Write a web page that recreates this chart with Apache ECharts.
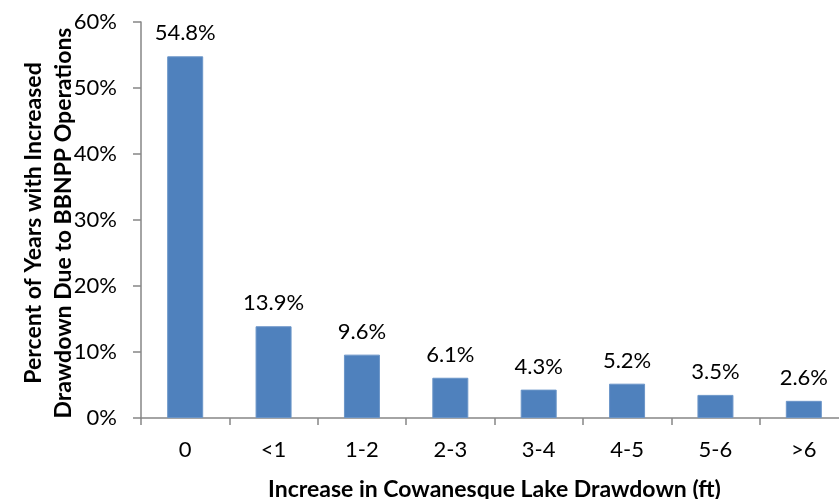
<!DOCTYPE html>
<html>
<head>
<meta charset="utf-8">
<script src="https://cdn.jsdelivr.net/npm/echarts@6/dist/echarts.min.js"></script>
<style>html,body{margin:0;padding:0;background:#fff}#c{width:839px;height:499px}</style>
</head>
<body>
<div id="c"></div>
<script>
const categories = ['0', '<1', '1-2', '2-3', '3-4', '4-5', '5-6', '>6'];
const values = [54.8, 13.9, 9.6, 6.1, 4.3, 5.2, 3.5, 2.6];
const yTicks = [0, 10, 20, 30, 40, 50, 60];

const chart = echarts.init(document.getElementById('c'), null, {renderer: 'canvas'});
const font = 'Lato';
chart.setOption({
  animation: false,
  backgroundColor: '#fff',
  grid: {left: 141, top: 22, width: 707, height: 396, containLabel: false, outerBoundsMode: 'none'},
  xAxis: {
    type: 'category',
    data: categories,
    name: 'Increase in Cowanesque Lake Drawdown (ft)',
    nameLocation: 'middle',
    nameGap: 60,
    nameTextStyle: {fontFamily: font, fontWeight: 'bold', fontSize: 23, color: '#000'},
    axisLine: {lineStyle: {color: '#868686', width: 1.5}},
    axisTick: {show: true, length: 7, alignWithLabel: false, lineStyle: {color: '#868686', width: 1.5}},
    axisLabel: {fontFamily: font, fontSize: 22, color: '#000', margin: 21},
    splitLine: {show: false}
  },
  yAxis: {
    type: 'value',
    min: yTicks[0],
    max: yTicks[yTicks.length - 1],
    interval: 10,
    axisLine: {show: true, lineStyle: {color: '#868686', width: 1.5}},
    axisTick: {show: true, length: 8, lineStyle: {color: '#868686', width: 1.5}},
    axisLabel: {fontFamily: font, fontSize: 22, color: '#000', margin: 24, formatter: v => v + '%'},
    splitLine: {show: false}
  },
  graphic: [{
    type: 'text',
    rotation: Math.PI / 2,
    x: 49, y: 223,
    style: {
      text: 'Percent of Years with Increased\nDrawdown Due to BBNPP Operations',
      font: 'bold 23px Lato',
      fill: '#000',
      align: 'center',
      verticalAlign: 'middle',
      lineHeight: 30
    }
  }],
  series: [{
    type: 'bar',
    data: values,
    barWidth: 36,
    itemStyle: {color: '#4F81BD', borderColor: '#6B95C8', borderWidth: 1},
    label: {
      show: true,
      position: 'top',
      distance: 12,
      fontFamily: font,
      fontSize: 22,
      color: '#000',
      formatter: p => p.value.toFixed(1) + '%'
    }
  }]
});
</script>
</body>
</html>
